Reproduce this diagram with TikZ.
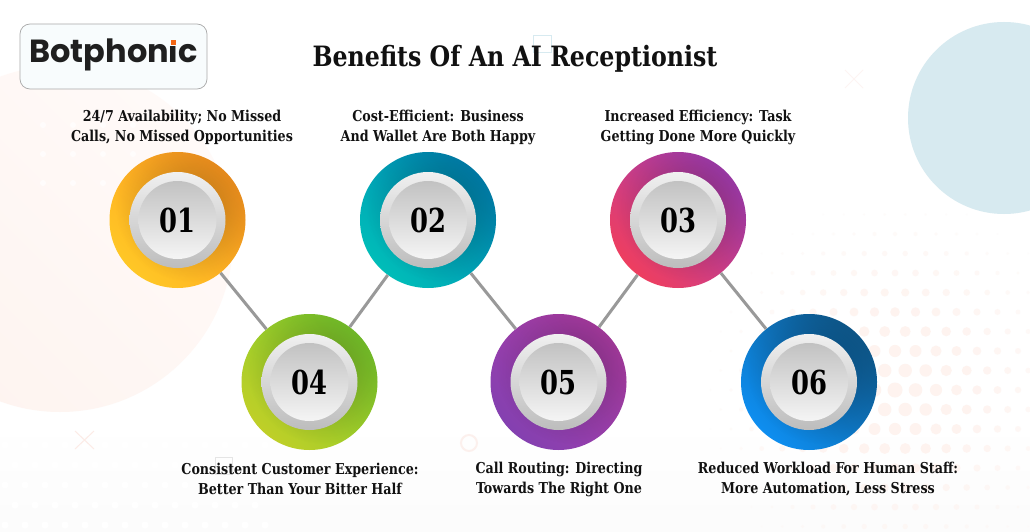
\documentclass[tikz,border=0pt]{standalone}
\usepackage{fontspec}
\setmainfont{DejaVu Serif}
\newfontfamily\slab[FakeStretch=0.94]{DejaVu Serif Condensed}
\newfontfamily\numfont[FakeStretch=0.87]{DejaVu Serif Condensed}
\newfontfamily\logofont{Poppins}
\usetikzlibrary{fadings}
\definecolor{inkc}{HTML}{111111}
\definecolor{pinkbgA}{HTML}{FFFAF8}
\definecolor{pinkbgB}{HTML}{FEF4F0}
\definecolor{bluebg}{HTML}{D7EAF0}
\definecolor{halfc}{HTML}{FEF3EF}
\definecolor{markc}{HTML}{FCEBE6}
\definecolor{linkc}{HTML}{999999}
\definecolor{logoborder}{HTML}{A9A9A9}
\definecolor{logofill}{HTML}{F8FCFD}
\definecolor{logoink}{HTML}{1F1F1F}
\definecolor{logodot}{HTML}{F26513}
\definecolor{aA}{HTML}{FFC726}\definecolor{aB}{HTML}{FF9A20}
\definecolor{bA}{HTML}{00BDB8}\definecolor{bB}{HTML}{0086B5}
\definecolor{cA}{HTML}{EE3E5F}\definecolor{cB}{HTML}{A93EB5}
\definecolor{dA}{HTML}{BFCF28}\definecolor{dB}{HTML}{7CCC2C}
\definecolor{eA}{HTML}{8440B0}\definecolor{eB}{HTML}{B03EA8}
\definecolor{fA}{HTML}{0E8EF0}\definecolor{fB}{HTML}{0F5F96}
\tikzfading[name=ringshadow, inner color=transparent!0, outer color=transparent!100]
\tikzset{
  ring/.style={circle,inner sep=0pt,minimum size=136pt},
  bezel/.style={circle,inner sep=0pt,minimum size=96pt,top color=black!6,bottom color=black!26},
  knob/.style={circle,inner sep=0pt,minimum size=78pt,top color=black!24,bottom color=black!4,
    text=black,font=\numfont\bfseries\fontsize{33}{33}\selectfont},
  caption/.style={align=center,text=inkc,inner sep=0pt,font=\slab\bfseries\fontsize{15}{20}\selectfont},
  heading/.style={text=inkc,inner sep=0pt,font=\slab\bfseries\fontsize{28}{30}\selectfont},
  link/.style={draw=linkc,line width=3pt},
  markline/.style={line width=1pt},
}
\newcommand{\ringnode}[6]{%
  \node[ring,bottom color=#4,top color=#5,shading angle=-45] (#1) at (#2,#3) {};
  \begin{scope}
    \clip (#2,#3) circle[radius=68];
    \fill[black,opacity=.28,path fading=ringshadow] ({#2+14},{#3-14}) circle[radius=76];
  \end{scope}
  \node[bezel] (#1b) at (#2,#3) {};
  \node[knob] (#1k) at (#2,#3) {#6};
}
\begin{document}
\begin{tikzpicture}[x=1pt,y=-1pt]
\useasboundingbox (0,0) rectangle (1030,532);
\fill[white] (0,0) rectangle (1030,532);
% faint bottom wash
\shade[top color=white,bottom color=black!1.3] (0,420) rectangle (1030,532);
\foreach \j in {0,...,5}{\foreach \i in {0,...,13}{
  \pgfmathsetmacro\px{\i*20+mod(\j,2)*10-5}
  \pgfmathsetmacro\py{425+\j*20}
  \fill[white] (\px,\py) circle[radius=3.5];
}}
% halftone dots
\foreach \j in {-10,...,8}{\foreach \i in {-12,...,8}{
  \pgfmathsetmacro\px{895+\i*20.5+mod(abs(\j),2)*10.2}
  \pgfmathsetmacro\py{390+\j*19.5}
  \pgfmathsetmacro\dd{veclen(\px-895,\py-390)}
  \pgfmathsetmacro\rr{7.5*(1-\dd/215)}
  \pgfmathparse{\rr>0.7?1:0}
  \ifnum\pgfmathresult=1
    \pgfmathsetmacro\oo{min(1,\rr/5)}
    \fill[halfc,opacity=\oo] (\px,\py) circle[radius=\rr];
  \fi
}}
% background shapes
\shade[top color=pinkbgA,bottom color=pinkbgB,shading angle=-45] (60,239) circle[radius=173];
\fill[bluebg] (1004,118) circle[radius=96];
\foreach \y in {125,154,183}{\foreach \x in {43,73,103,133}{
  \fill[white,opacity=.7] (\x,\y) circle[radius=3];
}}
\draw[markc,markline] (75,431) -- (94,449) (94,431) -- (75,449);
\draw[markc,opacity=.5,markline] (845,70) -- (863,88) (863,70) -- (845,88);
\draw[bluebg,markline] (533.5,35.5) rectangle (551.5,53);
\draw[black!10,markline] (215.5,457.5) rectangle (232,474);
\draw[markc,opacity=.7,line width=2pt] (469,443) circle[radius=8];
% logo
\node[draw=logoborder,fill=logofill,rounded corners=10pt,line width=.7pt,minimum width=187pt,minimum height=65pt,inner sep=0pt] (logobox) at (113.5,56.5) {};
\node[inner sep=0pt,text=logoink,font=\logofont\bfseries\fontsize{32}{32}\selectfont] (logotext) at (113.5,54) {Botphonic};
\fill[logofill] (168,34) rectangle (178.5,45.8);
\fill[logodot] (171,40) rectangle (176,45.5);
% title
\node[heading] (title) at (515,59) {Benefits Of An AI Receptionist};
% circles
\ringnode{n1}{177.5}{220}{aA}{aB}{01}
\ringnode{n2}{428}{220}{bA}{bB}{02}
\ringnode{n3}{678}{220}{cA}{cB}{03}
\ringnode{n4}{309.5}{382}{dA}{dB}{04}
\ringnode{n5}{558.5}{382}{eA}{eB}{05}
\ringnode{n6}{809}{382}{fA}{fB}{06}
% connectors
\draw[link] (n1) -- (n4);
\draw[link] (n4) -- (n2);
\draw[link] (n2) -- (n5);
\draw[link] (n5) -- (n3);
\draw[link] (n3) -- (n6);
% captions
\node[caption] (c1) at (182,127.5) {24/7 Availability; No Missed\\Calls, No Missed Opportunities};
\node[caption] (c2) at (438,127.5) {Cost-Efficient: Business\\And Wallet Are Both Happy};
\node[caption] (c3) at (698,127.5) {Increased Efficiency: Task\\Getting Done More Quickly};
\node[caption] (c4) at (300,479) {Consistent Customer Experience:\\Better Than Your Bitter Half};
\node[caption] (c5) at (559,479) {Call Routing: Directing\\Towards The Right One};
\node[caption] (c6) at (828,479) {Reduced Workload For Human Staff:\\More Automation, Less Stress};
\end{tikzpicture}
\end{document}
